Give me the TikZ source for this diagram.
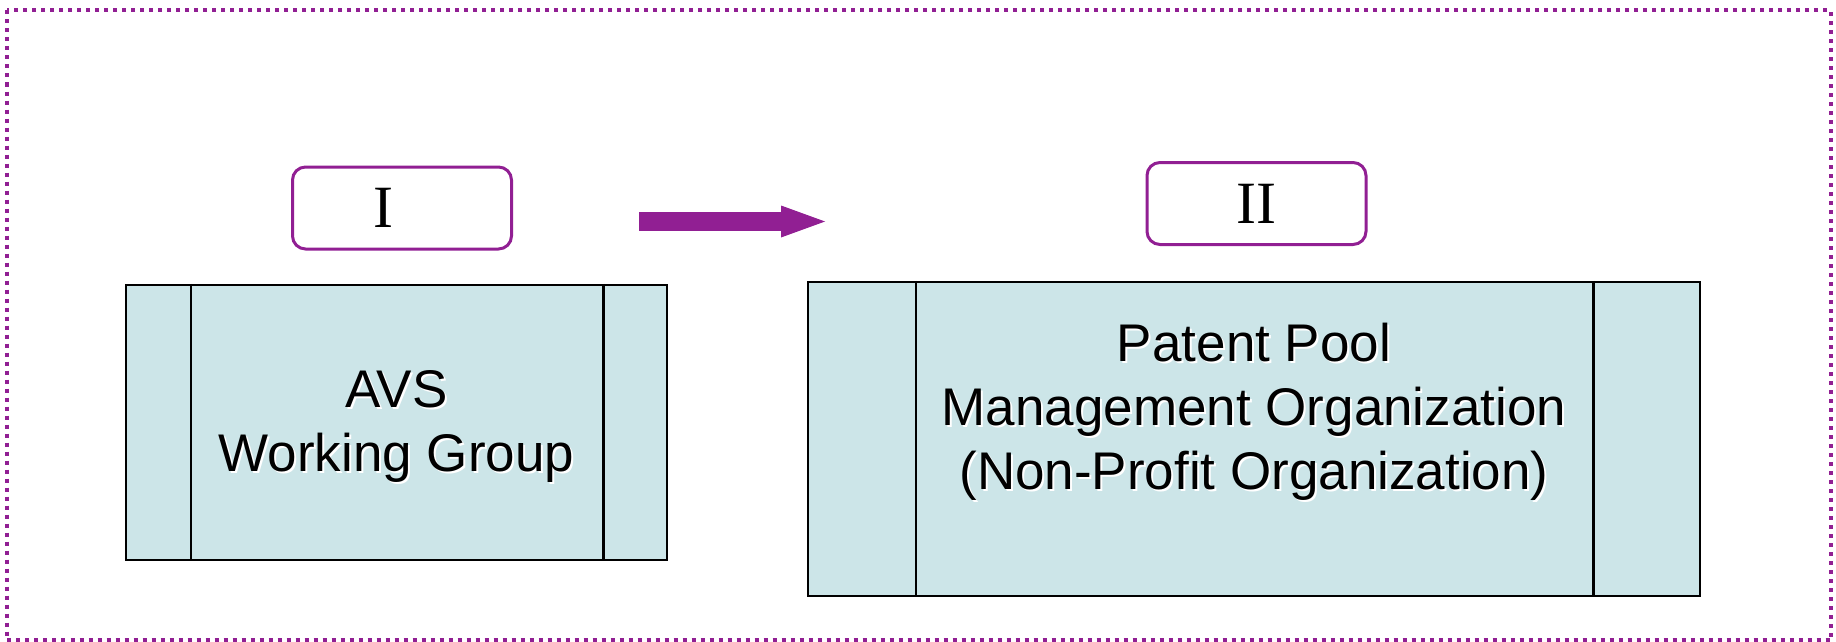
\documentclass[tikz,border=0pt]{standalone}
\usepackage{fontspec}
\setmainfont{Liberation Sans}
\newfontfamily\numfont{Liberation Serif}
\usetikzlibrary{arrows.meta}
\definecolor{poolpurple}{RGB}{145,31,147}
\definecolor{boxblue}{RGB}{204,229,232}
\newcommand{\shadowed}[1]{\rlap{\kern2pt\raisebox{-2pt}{\color{white}#1}}#1}

\begin{document}
\begin{tikzpicture}[x=1pt,y=-1pt,
  orgbox/.style={draw,line width=2.5pt,fill=boxblue,rectangle,inner sep=0pt},
  orgtext/.style={align=center,inner sep=0pt,anchor=north,font=\fontsize{53}{64}\selectfont},
  stagebox/.style={draw=poolpurple,line width=3pt,rounded corners=13pt,fill=white,inner sep=0pt,
    minimum width=219pt,minimum height=82pt,font=\numfont\fontsize{60}{60}\selectfont}]
\useasboundingbox (0,0) rectangle (1836,642);
% dotted frame
\draw[poolpurple,line width=4pt,dash pattern=on 4pt off 5pt] (7,10.5) rectangle (1831,640);
% stage labels
\node[stagebox] (stageI) at (402,208) {I\hspace*{38pt}};
\node[stagebox] (stageII) at (1256.5,203.5) {II};
% arrow between stages
\coordinate (arrowtail) at (639,221.5);
\coordinate (arrowtip) at (825,221.5);
\draw[poolpurple,line width=19pt,-{Triangle[length=44pt,width=32pt,line width=0pt]}] (arrowtail) -- (arrowtip);
% organisation boxes
\node[orgbox,minimum width=541pt,minimum height=275pt] (avs) at (396.5,422.5) {};
\node[orgbox,minimum width=892pt,minimum height=314pt] (pool) at (1254,439) {};
\draw[line width=2.5pt] ([xshift=66pt]avs.north west) -- ([xshift=66pt]avs.south west);
\draw[line width=2.5pt] ([xshift=-65pt]avs.north east) -- ([xshift=-65pt]avs.south east);
\draw[line width=2.5pt] ([xshift=109pt]pool.north west) -- ([xshift=109pt]pool.south west);
\draw[line width=2.5pt] ([xshift=-108pt]pool.north east) -- ([xshift=-108pt]pool.south east);
% box texts
\node[orgtext] (avstext) at ([yshift=-87pt]avs.north) {\shadowed{AVS}\\\shadowed{Working Group}};
\node[orgtext] (pooltext) at ([yshift=-42pt]pool.north)
  {\shadowed{Patent Pool}\\\shadowed{Management Organization}\\\shadowed{(Non-Profit Organization)}};
\end{tikzpicture}
\end{document}
